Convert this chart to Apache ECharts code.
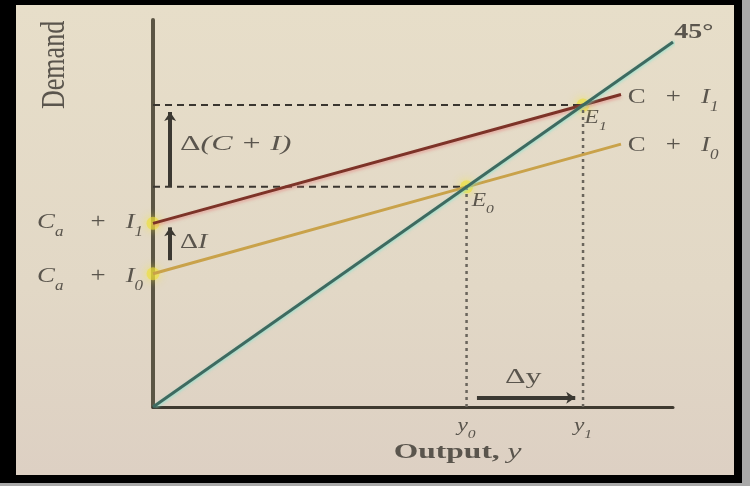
<!DOCTYPE html>
<html>
<head>
<meta charset="utf-8">
<script src="https://cdn.jsdelivr.net/npm/echarts@6/dist/echarts.min.js"></script>
<style>
    html, body { margin: 0; padding: 0; background: #a9a9a9; }
    #frame { position: absolute; left: 0; top: 0; width: 742px; height: 483px; background: #000; }
    #paper { position: absolute; left: 16px; top: 5px; width: 718px; height: 470px;
        background: linear-gradient(#e7dec9, #e2d8c6 60%, #ddd0c3); }
    #chart { position: absolute; left: 0; top: 0; width: 750px; height: 486px; }
</style>
</head>
<body>
<div id="frame"></div>
<div id="paper"></div>
<div id="chart"></div>
<script>
    // axis ranges
    const xMax = 100;
    const yMax = 106;

    // curves (x = output, y = demand)
    const line45 = [[0, 0], [100, 100]];
    const lineCI1 = [[0, 50.3], [82.7, 82.7], [90, 85.6]];
    const lineCI0 = [[0, 36.5], [60.3, 60.3], [90, 72]];

    // highlighted points: intercepts and equilibria E0, E1
    const hotPoints = [[0, 50.3], [0, 36.5], [60.3, 60.3], [82.7, 82.7]];

    // equilibrium guides
    const eqX = [60.3, 82.7];
    const eqY = [60.3, 82.7];

    // arrows: Δ(C+I), ΔI, Δy
    const arrows = [
        [[3.3, 60.3], [3.3, 80.8]],
        [[3.3, 40.2], [3.3, 49.2]],
        [[62.3, 2.5], [81.2, 2.5]]
    ];

    // text labels placed in data coordinates
    const labelPos = [
        [-18.8, 93.7],   // Demand
        [104, 102.5],    // 45°
        [91.3, 84.9],    // C + I1
        [91.3, 71.8],    // C + I0
        [-1.9, 50.7],    // Ca + I1
        [-1.9, 35.9],    // Ca + I0
        [83.0, 79.2],    // E1
        [61.3, 56.4],    // E0
        [5.2, 71.8],     // Δ(C+I)
        [5.2, 44.9],     // ΔI
        [71.2, 7.9],     // Δy
        [60.3, -5.2],    // y0
        [82.7, -5.2],    // y1
        [58.6, -12.4]    // Output, y
    ];
    const labelText = [
        'Demand',
        '45°',
        '{n|C}   +   {i|I}{s|1}',
        '{n|C}   +   {i|I}{s|0}',
        '{i|C}{s|a}    +   {i|I}{s|1}',
        '{i|C}{s|a}    +   {i|I}{s|0}',
        '{i|E}{s|1}',
        '{i|E}{s|0}',
        '{n|Δ}{i|(C + I)}',
        '{n|Δ}{i|I}',
        'Δy',
        '{i|y}{s|0}',
        '{i|y}{s|1}',
        'Output, {i|y}'
    ];

    const ink = '#5a554d';
    const serif = 'Liberation Serif';
    const labelLook = [
        {size: 26, align: 'center', rot: Math.PI / 2, sx: 1, sy: 1.3},
        {size: 20, align: 'center', sx: 1.4, bold: true},
        {size: 22, align: 'left', sx: 1.22},
        {size: 22, align: 'left', sx: 1.22},
        {size: 22, align: 'right', sx: 1.22},
        {size: 22, align: 'right', sx: 1.22},
        {size: 18, align: 'left', sx: 1.3},
        {size: 18, align: 'left', sx: 1.3},
        {size: 20, align: 'left', sx: 1.6},
        {size: 20, align: 'left', sx: 1.4},
        {size: 20, align: 'center', sx: 1.6},
        {size: 18, align: 'center', sx: 1.3},
        {size: 18, align: 'center', sx: 1.3},
        {size: 21, align: 'center', sx: 1.5, bold: true}
    ];

    const myChart = echarts.init(document.getElementById('chart'), null, {renderer: 'canvas'});

    const richFor = (size) => ({
        n: {fontSize: size, fontFamily: serif, fill: ink, color: ink, lineHeight: size + 12},
        i: {fontSize: size, fontFamily: serif, fontStyle: 'italic', fill: ink, color: ink, lineHeight: size + 12},
        s: {fontSize: Math.round(size * 0.65), fontFamily: serif, fontStyle: 'italic', fill: ink, color: ink,
            verticalAlign: 'bottom', lineHeight: size + 12}
    });

    const guideH = eqY.map(v => ({
        type: 'line', silent: true, symbol: 'none',
        data: [[0, v], [v, v]],
        lineStyle: {color: '#3a3630', width: 2, type: [7, 5]}
    }));
    const guideV = eqX.map(v => ({
        type: 'line', silent: true, symbol: 'none',
        data: [[v, 0], [v, v]],
        lineStyle: {color: '#6a655c', width: 2.5, type: [3, 4]}
    }));

    const option = {
        animation: false,
        grid: {left: 153, right: 77, top: 20, bottom: 79},
        xAxis: {
            type: 'value', min: 0, max: xMax,
            splitLine: {show: false},
            axisTick: {show: false},
            axisLabel: {show: false},
            axisLine: {lineStyle: {color: '#3f3a30', width: 3}}
        },
        yAxis: {
            type: 'value', min: 0, max: yMax,
            splitLine: {show: false},
            axisTick: {show: false},
            axisLabel: {show: false},
            axisLine: {show: true, lineStyle: {color: '#5b5544', width: 4}}
        },
        series: [
            ...guideH,
            ...guideV,
            {
                name: 'C + I0',
                type: 'line', symbol: 'none', silent: true,
                data: lineCI0,
                lineStyle: {color: '#c9a24a', width: 3}
            },
            {
                name: 'C + I1',
                type: 'line', symbol: 'none', silent: true,
                data: lineCI1,
                lineStyle: {color: '#7d3328', width: 3, shadowColor: 'rgba(230,120,120,0.5)', shadowBlur: 3, shadowOffsetY: 2}
            },
            {
                name: '45°',
                type: 'line', symbol: 'none', silent: true,
                data: line45,
                lineStyle: {color: '#3e6a60', width: 3, shadowColor: 'rgba(120,230,210,0.7)', shadowBlur: 3, shadowOffsetX: 2}
            },
            {
                type: 'scatter', silent: true,
                data: hotPoints,
                symbolSize: 13,
                itemStyle: {color: 'rgba(236,222,60,0.8)', shadowColor: 'rgba(245,232,50,1)', shadowBlur: 10}
            },
            {
                type: 'line', silent: true, data: [],
                markLine: {
                    silent: true,
                    symbol: ['none', 'arrow'],
                    symbolSize: [9, 9],
                    label: {show: false},
                    lineStyle: {color: '#3b3832', width: 4, type: 'solid'},
                    data: arrows.map(a => [{coord: a[0]}, {coord: a[1]}])
                }
            },
            {
                type: 'custom', silent: true,
                data: labelPos,
                renderItem(params, api) {
                    const k = params.dataIndex;
                    const p = api.coord([api.value(0), api.value(1)]);
                    const look = labelLook[k];
                    return {
                        type: 'text',
                        x: p[0], y: p[1],
                        rotation: look.rot || 0,
                        scaleX: look.sx, scaleY: look.sy || 1,
                        style: {
                            text: labelText[k],
                            x: 0, y: 0,
                            fontSize: look.size,
                            fontFamily: serif,
                            fontWeight: look.bold ? 'bold' : 'normal',
                            fill: ink,
                            align: look.align,
                            verticalAlign: 'middle',
                            rich: richFor(look.size)
                        }
                    };
                }
            }
        ]
    };
    myChart.setOption(option);
</script>
</body>
</html>
